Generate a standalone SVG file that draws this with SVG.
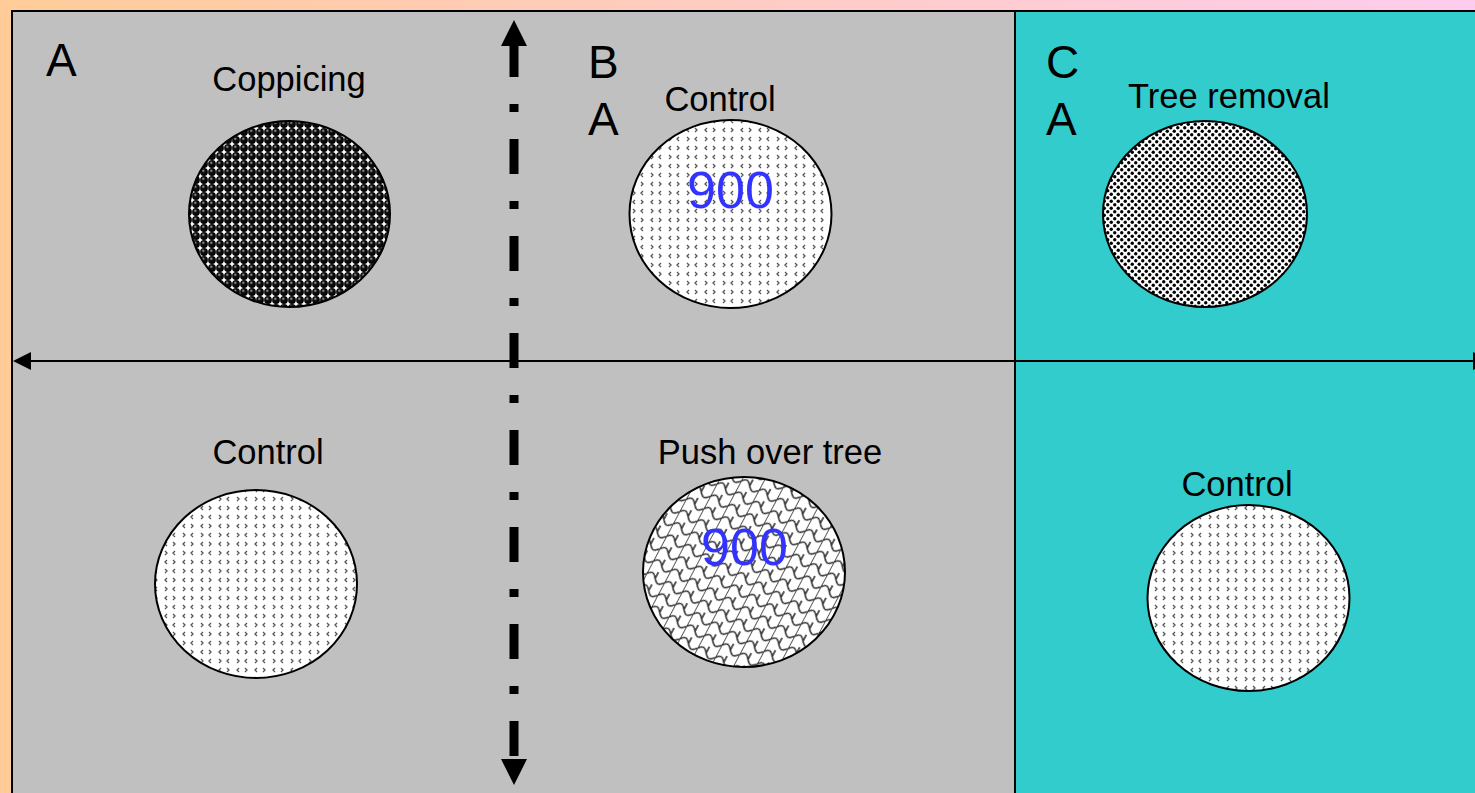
<svg xmlns="http://www.w3.org/2000/svg" width="1475" height="793" viewBox="0 0 1475 793">
<style>
.lbl{font-family:"Liberation Sans",Arial,sans-serif;font-size:34.5px;fill:#000;text-anchor:middle}
.big{font-family:"Liberation Sans",Arial,sans-serif;font-size:46px;fill:#000}
.num{font-family:"Liberation Sans",Arial,sans-serif;font-size:52px;fill:#3333FF;text-anchor:middle}
.plot{stroke:#000;stroke-width:2}
</style>
<defs>
<linearGradient id="bg" x1="0" y1="0" x2="1" y2="0">
<stop offset="0" stop-color="#FFCC99"/>
<stop offset="1" stop-color="#FFCCEE"/>
</linearGradient>
<radialGradient id="ball" cx="0.4" cy="0.35" r="0.65">
<stop offset="0" stop-color="#aaa"/>
<stop offset="0.35" stop-color="#111"/>
<stop offset="1" stop-color="#000"/>
</radialGradient>
<pattern id="pBalls" width="8" height="8" patternUnits="userSpaceOnUse">
<rect width="8" height="8" fill="#fff"/>
<circle cx="4" cy="4" r="3.9" fill="url(#ball)"/>
<rect x="-1" y="-1" width="2" height="2" fill="#fff"/>
<rect x="7" y="-1" width="2" height="2" fill="#fff"/>
<rect x="-1" y="7" width="2" height="2" fill="#fff"/>
<rect x="7" y="7" width="2" height="2" fill="#fff"/>
</pattern>
<pattern id="pChev" width="18" height="18" patternUnits="userSpaceOnUse">
<rect width="18" height="18" fill="#fff"/>
<path d="M5,2 L3,4 L5,6 M11,2 L13,4 L11,6 M3,11 L5,13 L3,15 M13,11 L11,13 L13,15" fill="none" stroke="#555" stroke-width="1.3"/>
</pattern>
<pattern id="pDots" width="7" height="7" patternUnits="userSpaceOnUse">
<rect width="7" height="7" fill="#fff"/>
<circle cx="1.75" cy="1.75" r="1.7" fill="#000"/>
<circle cx="5.25" cy="5.25" r="1.7" fill="#000"/>
</pattern>
<pattern id="pScale" width="20" height="14" patternUnits="userSpaceOnUse" patternTransform="rotate(28)">
<rect width="20" height="14" fill="#fff"/>
<path d="M0,7 C4,2 6,2 10,7 C14,12 16,12 20,7 M0,0 L0,14 M10,0 L10,7" fill="none" stroke="#333" stroke-width="1.6"/>
</pattern>
<marker id="ah" viewBox="0 0 18 18" markerWidth="18" markerHeight="18" refX="0" refY="9" orient="auto-start-reverse" markerUnits="userSpaceOnUse">
<path d="M0,0 L18,9 L0,18 z" fill="#000"/>
</marker>
<marker id="av" viewBox="0 0 26 26" markerWidth="26" markerHeight="26" refX="0" refY="13" orient="auto-start-reverse" markerUnits="userSpaceOnUse">
<path d="M0,0 L26,13 L0,26 z" fill="#000"/>
</marker>
</defs>
<rect x="0" y="0" width="1475" height="793" fill="url(#bg)"/>
<rect id="panel-left" class="plot" x="12" y="11" width="1003" height="800" fill="#C0C0C0"/>
<rect id="panel-right" class="plot" x="1015" y="11" width="480" height="800" fill="#33CCCC"/>
<text class="big" x="46" y="76">A</text>
<text class="big" x="588" y="78">B</text>
<text class="big" x="588" y="135">A</text>
<text class="big" x="1046" y="78">C</text>
<text class="big" x="1046" y="135">A</text>
<g id="connectors">
<line x1="31" y1="361" x2="1473" y2="361" stroke="#000" stroke-width="2" marker-start="url(#ah)" marker-end="url(#ah)"/>
<line x1="514" y1="46" x2="514" y2="759" stroke="#000" stroke-width="9" stroke-dasharray="35 27 8 27" stroke-dashoffset="4" marker-start="url(#av)" marker-end="url(#av)"/>
</g>
<g id="coppicing">
<ellipse class="plot" cx="289.5" cy="214" rx="100.5" ry="93" fill="url(#pBalls)"/>
<text class="lbl" x="289" y="91">Coppicing</text>
</g>
<g id="control-b">
<ellipse class="plot" cx="730.5" cy="214" rx="101" ry="94" fill="url(#pChev)"/>
<text class="lbl" x="720" y="111">Control</text>
<text class="num" x="730.5" y="208">900</text>
</g>
<g id="tree-removal">
<ellipse class="plot" cx="1205" cy="214" rx="102" ry="93" fill="url(#pDots)"/>
<text class="lbl" x="1229" y="108">Tree removal</text>
</g>
<g id="control-a">
<ellipse class="plot" cx="256" cy="584" rx="101" ry="94" fill="url(#pChev)"/>
<text class="lbl" x="268" y="464">Control</text>
</g>
<g id="push-over-tree">
<ellipse class="plot" cx="744" cy="572" rx="101" ry="95" fill="url(#pScale)"/>
<text class="lbl" x="770" y="464">Push over tree</text>
<text class="num" x="744.5" y="565">900</text>
</g>
<g id="control-c">
<ellipse class="plot" cx="1248.5" cy="598" rx="101" ry="93" fill="url(#pChev)"/>
<text class="lbl" x="1237" y="496">Control</text>
</g>
</svg>
